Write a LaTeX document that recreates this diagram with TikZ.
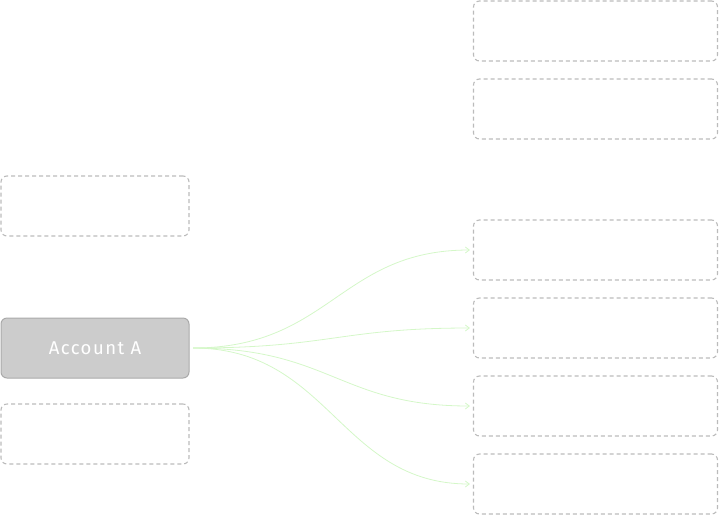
\documentclass[tikz,border=0pt]{standalone}
\usepackage{fontspec}
\setmainfont{Fira Sans}
\newfontfamily\accfont[LetterSpace=8]{Fira Sans}
\usetikzlibrary{arrows.meta}
\definecolor{boxline}{HTML}{BBBBBB}
\definecolor{accfill}{HTML}{CCCCCC}
\definecolor{accline}{HTML}{AAAAAA}
\definecolor{edgecol}{HTML}{D4F7C8}
\begin{document}
\begin{tikzpicture}[x=1pt,y=-1pt,
  emptybox/.style={draw=boxline, dash pattern=on 4pt off 3pt, line width=1.1pt, rounded corners=6pt, minimum width=244pt, minimum height=60pt, inner sep=0pt},
  leftbox/.style={emptybox, minimum width=188pt},
  accbox/.style={draw=accline, fill=accfill, line width=1pt, rounded corners=6pt, minimum width=188pt, minimum height=60pt, inner sep=0pt, text=white, font=\accfont\fontsize{18.5}{22}\selectfont},
  flow/.style={draw=edgecol, line width=0.8pt, -{Straight Barb[length=4pt,width=6pt]}}
]
\useasboundingbox (0,0) rectangle (719,515);
\node[emptybox] (r1) at (595.5,31) {};
\node[emptybox] (r2) at (595.5,109) {};
\node[emptybox] (r3) at (595.5,250) {};
\node[emptybox] (r4) at (595.5,328) {};
\node[emptybox] (r5) at (595.5,406) {};
\node[emptybox] (r6) at (595.5,484) {};
\node[leftbox] (l1) at (95,206) {};
\node[accbox] (acc) at (95,348) {Account A};
\node[leftbox] (l2) at (95,434) {};
\coordinate (s) at (193,348);
\draw[flow] (s) .. controls (330,348) and (340,250) .. ([xshift=-3pt]r3.west);
\draw[flow] (s) .. controls (330,348) and (340,328) .. ([xshift=-3pt]r4.west);
\draw[flow] (s) .. controls (330,348) and (340,406) .. ([xshift=-3pt]r5.west);
\draw[flow] (s) .. controls (330,348) and (340,484) .. ([xshift=-3pt]r6.west);
\end{tikzpicture}
\end{document}
